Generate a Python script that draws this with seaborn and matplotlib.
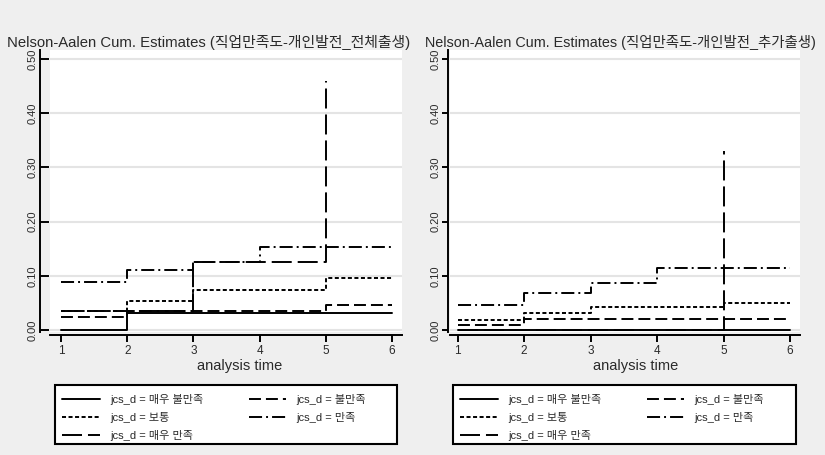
import numpy as np
import pandas as pd
import matplotlib
matplotlib.use("Agg")
import matplotlib.pyplot as plt
from matplotlib.lines import Line2D
from matplotlib.patches import Rectangle
import seaborn as sns

sns.set_theme(style="white")
plt.rcParams["font.family"] = ["Liberation Sans", "Noto Sans CJK KR"]
plt.rcParams["lines.scale_dashes"] = False

# ---- data -------------------------------------------------------------
times = [1, 2, 3, 4, 5, 6]
groups = ["매우 불만족", "불만족", "보통", "만족", "매우 만족"]
legend_labels = [f"jcs_d = {g}" for g in groups]
yticks = [0.0, 0.1, 0.2, 0.3, 0.4, 0.5]
xticks = [1, 2, 3, 4, 5, 6]

titles = [
    "Nelson-Aalen Cum. Estimates (직업만족도-개인발전_전체출생)",
    "Nelson-Aalen Cum. Estimates (직업만족도-개인발전_추가출생)",
]

# cumulative hazard, whole birth cohort
total_very_dissat = [0.000, 0.032, 0.032, 0.032, 0.032, 0.032]
total_dissat = [0.024, 0.035, 0.035, 0.035, 0.046, 0.046]
total_neutral = [0.035, 0.053, 0.074, 0.074, 0.096, 0.096]
total_sat = [0.089, 0.110, 0.125, 0.153, 0.153, 0.153]
total_very_sat = [0.035, 0.035, 0.125, 0.125, 0.460]

# cumulative hazard, additional birth
extra_very_dissat = [0.000, 0.000, 0.000, 0.000, 0.000, 0.000]
extra_dissat = [0.010, 0.021, 0.021, 0.021, 0.021, 0.021]
extra_neutral = [0.018, 0.032, 0.043, 0.043, 0.050, 0.050]
extra_sat = [0.047, 0.068, 0.086, 0.115, 0.115, 0.115]
extra_very_sat = [0.000, 0.000, 0.000, 0.000, 0.330]

panels = [
    [total_very_dissat, total_dissat, total_neutral, total_sat, total_very_sat],
    [extra_very_dissat, extra_dissat, extra_neutral, extra_sat, extra_very_sat],
]


def to_frame(series_list):
    rows = []
    for g, vals in zip(groups, series_list):
        for t, v in zip(times, vals):
            rows.append({"time": t, "cumhaz": v, "group": g})
    return pd.DataFrame(rows)


# ---- styling ----------------------------------------------------------
dash_map = {
    "매우 불만족": "",
    "불만족": (8.6, 3.6),
    "보통": (2.9, 1.8),
    "만족": (9.4, 2.9, 1.4, 2.9),
    "매우 만족": (14.4, 4.3),
}
LW = 1.4
BG = "#efefef"
TXT = "#2a2a2a"

W, H = 825, 455
fig = plt.figure(figsize=(W / 100, H / 100), dpi=100)
fig.patch.set_facecolor(BG)


def px_axes(x0, y0, x1, y1):
    return fig.add_axes([x0 / W, 1 - y1 / H, (x1 - x0) / W, (y1 - y0) / H])


layout = [
    dict(box=(50, 50, 402, 332), x1px=61, x6px=392, spine_out=7.2,
         tdir="in", tlen=6.5, title_x=7, title_size=10.7, xlabel_x=240,
         legend_box=(55, 385, 397, 444)),
    dict(box=(450, 50, 800, 332), x1px=457.7, x6px=790, spine_out=1.4,
         tdir="out", tlen=4, title_x=425, title_size=10.4, xlabel_x=636,
         legend_box=(453, 385, 796, 444)),
]

y0px = 330.0
px_per_unit = 542.0

for series_list, spec, title in zip(panels, layout, titles):
    x0, y0, x1, y1 = spec["box"]
    ax = px_axes(x0, y0, x1, y1)
    ax.set_facecolor("white")

    df = to_frame(series_list)
    sns.lineplot(data=df, x="time", y="cumhaz", style="group",
                 style_order=groups, dashes=dash_map, color="black",
                 linewidth=LW, drawstyle="steps-post", estimator=None,
                 legend=False, ax=ax, zorder=3)

    ppu = (spec["x6px"] - spec["x1px"]) / 5
    ax.set_xlim(1 - (spec["x1px"] - x0) / ppu, 6 + (x1 - spec["x6px"]) / ppu)
    ax.set_ylim(-(y1 - y0px) / px_per_unit, (y0px - y0) / px_per_unit)

    ax.set_xticks(xticks)
    ax.set_xticklabels([str(t) for t in xticks])
    ax.set_yticks(yticks)
    ax.set_yticklabels([f"{v:.2f}" for v in yticks])
    ax.set_xlabel("")
    ax.set_ylabel("")

    ax.grid(axis="y", color="#e4e4e4", linewidth=1.5, zorder=0)
    ax.grid(axis="x", visible=False)
    ax.set_axisbelow(True)

    for side in ("top", "right"):
        ax.spines[side].set_visible(False)
    ax.spines["left"].set_position(("outward", spec["spine_out"]))
    ax.spines["bottom"].set_position(("outward", 2.2))
    for side in ("left", "bottom"):
        ax.spines[side].set_color("black")
        ax.spines[side].set_linewidth(1.4)

    ax.tick_params(axis="y", direction=spec["tdir"], length=spec["tlen"],
                   width=1.4, color="black", labelsize=8, labelcolor=TXT,
                   pad=1.5, left=True, labelrotation=90)
    for lab in ax.get_yticklabels():
        lab.set_verticalalignment("center")
    ax.tick_params(axis="x", direction="out", length=5, width=1.4,
                   color="black", labelsize=8.5, labelcolor=TXT, pad=2,
                   bottom=True)

    fig.text(spec["title_x"] / W, 1 - 47 / H, title,
             fontsize=spec["title_size"], color=TXT, ha="left",
             va="baseline")
    fig.text(spec["xlabel_x"] / W, 1 - 370 / H, "analysis time",
             fontsize=10.5, color=TXT, ha="center", va="baseline")

    # legend frame and entries
    lx0, ly0, lx1, ly1 = spec["legend_box"]
    fig.patches.append(Rectangle((lx0 / W, 1 - ly1 / H), (lx1 - lx0) / W,
                                 (ly1 - ly0) / H, transform=fig.transFigure,
                                 facecolor="white", edgecolor="black",
                                 linewidth=1.5, zorder=1))
    handles = [Line2D([0], [0], color="black", linewidth=LW,
                      dashes=dash_map[g] if dash_map[g] else (None, None))
               for g in groups]
    order = [0, 2, 4, 1, 3]
    fig.legend([handles[i] for i in order], [legend_labels[i] for i in order],
               loc="upper left",
               bbox_to_anchor=((lx0 + 7) / W, 1 - (ly0 + 9) / H),
               ncol=2, frameon=False, fontsize=8, handlelength=3.4,
               handletextpad=0.9, columnspacing=4.1, labelspacing=0.62,
               borderpad=0, borderaxespad=0, labelcolor=TXT)

fig.savefig("out.png", dpi=100, facecolor=BG)
